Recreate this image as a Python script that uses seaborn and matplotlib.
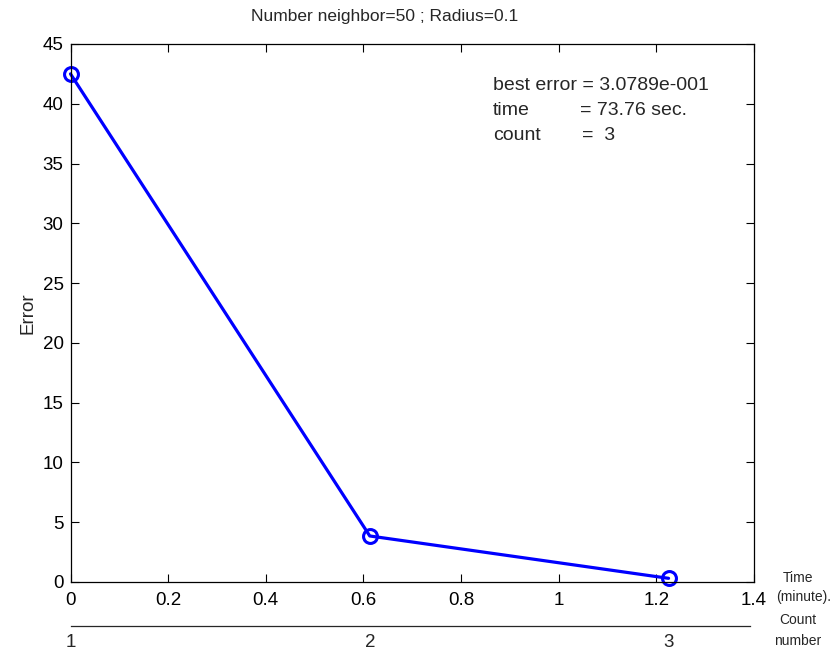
import matplotlib
matplotlib.use("Agg")
import matplotlib.pyplot as plt
import seaborn as sns
import pandas as pd

# Convergence history: elapsed time (minutes) and error at each count
count_number = [1, 2, 3]
time_minutes = [0.0, 0.613, 1.225]
error_values = [42.5, 3.85, 0.308]

x_ticks = [0, 0.2, 0.4, 0.6, 0.8, 1, 1.2, 1.4]
x_tick_labels = ["0", "0.2", "0.4", "0.6", "0.8", "1", "1.2", "1.4"]
y_ticks = [0, 5, 10, 15, 20, 25, 30, 35, 40, 45]

sns.set_style("white")
plt.rcParams["font.family"] = ["Liberation Sans", "DejaVu Sans"]

df = pd.DataFrame({"time": time_minutes, "error": error_values, "count": count_number})

W, H = 834, 653
L, R, T, B = 70.5, 754, 44, 582

fig = plt.figure(figsize=(W / 100, H / 100), dpi=100)
ax = fig.add_axes([L / W, 1 - B / H, (R - L) / W, (B - T) / H])

sns.lineplot(data=df, x="time", y="error", ax=ax, color="#0000ff", linewidth=2.3,
             marker="o", markersize=10, markerfacecolor="none",
             markeredgecolor="#0000ff", markeredgewidth=2.2, clip_on=False)

ax.set_xlim(0, 1.4)
ax.set_ylim(0, 45)
ax.set_xticks(x_ticks)
ax.set_xticklabels(x_tick_labels)
ax.set_yticks(y_ticks)
ax.tick_params(direction="in", length=6, width=0.8, labelsize=13.5, colors="black",
               top=True, right=True, bottom=True, left=True)
ax.tick_params(axis="x", pad=7)
ax.tick_params(axis="y", pad=5)
for s in ax.spines.values():
    s.set_visible(True)
    s.set_color("black")
    s.set_linewidth(0.9)
ax.set_xlabel("")
ax.set_ylabel("Error", fontsize=13.5, labelpad=4)

fig.text(385 / W, 1 - 16 / H, "Number neighbor=50 ; Radius=0.1", fontsize=12.5,
         ha="center", va="center")

# Summary block
fs_block = 14
def put(xp, yp, s):
    fig.text(xp / W, 1 - yp / H, s, fontsize=fs_block, ha="left", va="baseline")

put(493, 90, "best error = 3.0789e-001")
put(493, 115, "time")
put(580, 115, "= 73.76 sec.")
put(493, 140, "count")
put(582, 140, "=  3")

# Axis captions at the right
fig.text(798 / W, 1 - 578 / H, "Time", fontsize=10, ha="center", va="center")
fig.text(804 / W, 1 - 597 / H, "(minute).", fontsize=10, ha="center", va="center")
fig.text(798 / W, 1 - 620 / H, "Count", fontsize=10, ha="center", va="center")
fig.text(798 / W, 1 - 641 / H, "number", fontsize=10, ha="center", va="center")

# Secondary count axis below, aligned to elapsed time
ax2 = fig.add_axes([L / W, 1 - 626 / H, (R - L) / W, 0.001])
ax2.set_xlim(0, 1.4)
ax2.set_ylim(0, 1)
for name, s in ax2.spines.items():
    s.set_visible(name == "bottom")
ax2.spines["bottom"].set_bounds(0, 1.392)
ax2.spines["bottom"].set_linewidth(0.9)
ax2.set_xticks(time_minutes)
ax2.set_xticklabels([str(c) for c in count_number])
ax2.set_yticks([])
ax2.tick_params(axis="x", direction="in", length=8, width=0.8, labelsize=13.5, pad=6)
ax2.patch.set_visible(False)

fig.savefig("out.png", dpi=100, facecolor="white")
